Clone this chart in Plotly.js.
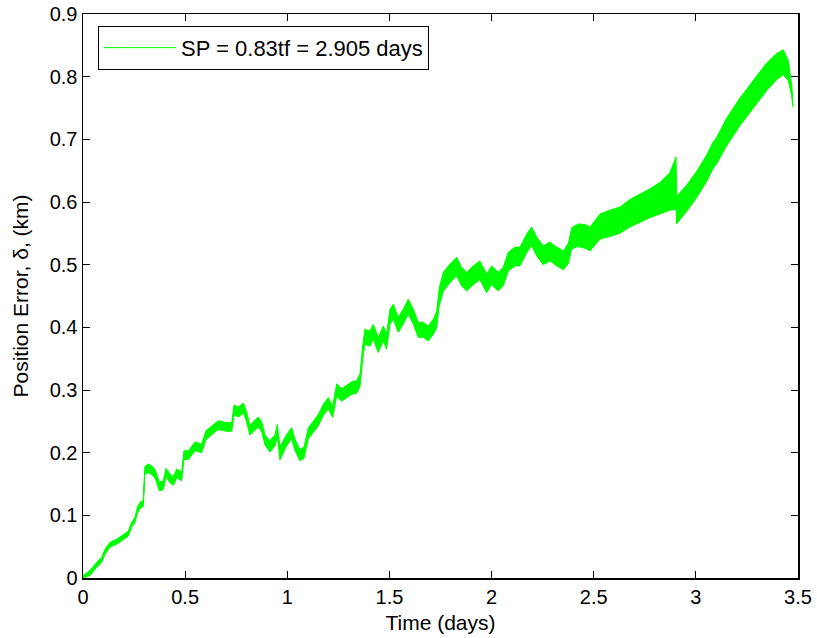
<!DOCTYPE html>
<html>
<head>
<meta charset="utf-8">
<script src="https://cdn.plot.ly/plotly-3.0.1.min.js"></script>
<style>
  html, body { margin: 0; padding: 0; background: #ffffff; }
  #chart { width: 817px; height: 638px; }
</style>
</head>
<body>
<div id="chart"></div>
<script>
// Position error of the propagated trajectory over time (days vs km).
// timeDays: sample times; errorKm: mean error; bandKm: half-width of the fast oscillation.
const timeDays = [
  0.000, 0.034, 0.067, 0.091, 0.108, 0.132, 0.165, 0.197, 0.222, 0.238,
  0.255, 0.266, 0.279, 0.295, 0.303, 0.320, 0.336, 0.352, 0.374, 0.393,
  0.406, 0.426, 0.442, 0.459, 0.483, 0.494, 0.516, 0.548, 0.581, 0.602,
  0.630, 0.662, 0.703, 0.728, 0.739, 0.760, 0.785, 0.798, 0.817, 0.834,
  0.858, 0.875, 0.891, 0.915, 0.940, 0.951, 0.964, 0.997, 1.021, 1.038,
  1.062, 1.082, 1.103, 1.127, 1.152, 1.176, 1.201, 1.222, 1.242, 1.266,
  1.291, 1.315, 1.340, 1.356, 1.369, 1.380, 1.405, 1.421, 1.445, 1.470,
  1.486, 1.503, 1.519, 1.543, 1.568, 1.592, 1.617, 1.641, 1.666, 1.690,
  1.715, 1.731, 1.744, 1.764, 1.796, 1.829, 1.853, 1.878, 1.910, 1.943,
  1.976, 2.000, 2.033, 2.057, 2.082, 2.115, 2.139, 2.172, 2.196, 2.221,
  2.253, 2.286, 2.319, 2.351, 2.376, 2.392, 2.424, 2.457, 2.482, 2.514,
  2.531, 2.580, 2.628, 2.677, 2.726, 2.775, 2.824, 2.873, 2.903, 2.906,
  2.955, 3.004, 3.053, 3.085, 3.102, 3.151, 3.216, 3.281, 3.347, 3.395,
  3.428, 3.452, 3.469, 3.475
];

const errorKm = [
  0.000, 0.008, 0.021, 0.029, 0.042, 0.053, 0.058, 0.066, 0.071, 0.085,
  0.093, 0.108, 0.116, 0.119, 0.172, 0.175, 0.172, 0.167, 0.146, 0.148,
  0.168, 0.159, 0.155, 0.167, 0.162, 0.196, 0.196, 0.210, 0.207, 0.228,
  0.236, 0.244, 0.241, 0.241, 0.268, 0.265, 0.271, 0.260, 0.236, 0.241,
  0.249, 0.241, 0.220, 0.210, 0.220, 0.236, 0.199, 0.220, 0.231, 0.212,
  0.196, 0.200, 0.231, 0.241, 0.252, 0.268, 0.279, 0.265, 0.300, 0.292,
  0.297, 0.303, 0.305, 0.316, 0.359, 0.385, 0.382, 0.393, 0.372, 0.390,
  0.377, 0.417, 0.425, 0.404, 0.417, 0.433, 0.417, 0.396, 0.396, 0.390,
  0.401, 0.412, 0.449, 0.473, 0.486, 0.497, 0.481, 0.473, 0.483, 0.491,
  0.470, 0.483, 0.473, 0.481, 0.505, 0.513, 0.513, 0.534, 0.545, 0.529,
  0.515, 0.521, 0.513, 0.507, 0.518, 0.542, 0.547, 0.545, 0.541, 0.555,
  0.561, 0.566, 0.571, 0.582, 0.590, 0.598, 0.606, 0.617, 0.630, 0.587,
  0.606, 0.628, 0.654, 0.675, 0.682, 0.712, 0.744, 0.771, 0.800, 0.816,
  0.823, 0.810, 0.779, 0.755
];

const bandKm = [
  0.004, 0.004, 0.004, 0.004, 0.004, 0.004, 0.004, 0.004, 0.004, 0.004,
  0.004, 0.005, 0.005, 0.005, 0.006, 0.007, 0.007, 0.007, 0.007, 0.007,
  0.007, 0.007, 0.007, 0.007, 0.007, 0.007, 0.007, 0.007, 0.007, 0.007,
  0.007, 0.007, 0.007, 0.007, 0.008, 0.008, 0.008, 0.008, 0.008, 0.008,
  0.008, 0.008, 0.008, 0.009, 0.009, 0.009, 0.011, 0.009, 0.009, 0.009,
  0.009, 0.009, 0.009, 0.009, 0.009, 0.009, 0.009, 0.009, 0.010, 0.010,
  0.010, 0.010, 0.010, 0.010, 0.011, 0.012, 0.012, 0.012, 0.012, 0.012,
  0.012, 0.012, 0.012, 0.012, 0.012, 0.012, 0.012, 0.012, 0.012, 0.012,
  0.012, 0.013, 0.014, 0.015, 0.015, 0.015, 0.015, 0.015, 0.015, 0.015,
  0.015, 0.015, 0.015, 0.015, 0.015, 0.015, 0.015, 0.015, 0.015, 0.015,
  0.015, 0.015, 0.015, 0.015, 0.016, 0.017, 0.018, 0.019, 0.019, 0.020,
  0.020, 0.021, 0.021, 0.022, 0.022, 0.023, 0.025, 0.030, 0.042, 0.022,
  0.021, 0.021, 0.021, 0.021, 0.021, 0.022, 0.022, 0.022, 0.022, 0.021,
  0.020, 0.016, 0.009, 0.004
];

const seriesName = 'SP = 0.83tf = 2.905 days';
const xTicks = [0, 0.5, 1, 1.5, 2, 2.5, 3, 3.5];
const yTicks = [0, 0.1, 0.2, 0.3, 0.4, 0.5, 0.6, 0.7, 0.8, 0.9];

const GREEN = '#00ff00';
const FONT = 'Liberation Sans, Arial, Helvetica, sans-serif';

const lowerEdge = errorKm.map((v, i) => Math.max(0, v - bandKm[i]));
const upperEdge = errorKm.map((v, i) => v + bandKm[i]);

const traces = [
  {
    x: timeDays, y: lowerEdge, type: 'scatter', mode: 'lines',
    line: { color: GREEN, width: 1 }, showlegend: false, hoverinfo: 'skip'
  },
  {
    x: timeDays, y: upperEdge, type: 'scatter', mode: 'lines',
    fill: 'tonexty', fillcolor: GREEN,
    line: { color: GREEN, width: 1 }, showlegend: false, hoverinfo: 'skip'
  },
  {
    x: timeDays, y: errorKm, type: 'scatter', mode: 'lines',
    name: seriesName, line: { color: GREEN, width: 1 }
  }
];

const axisCommon = {
  showline: true, linecolor: '#000000', linewidth: 1.5,
  mirror: 'ticks', ticks: 'inside', ticklen: 7, tickwidth: 1,
  tickcolor: '#000000', showgrid: false, zeroline: false,
  tickfont: { family: FONT, size: 20, color: '#000000' }
};

const layout = {
  width: 817, height: 638,
  margin: { l: 83, r: 19, t: 14, b: 60 },
  paper_bgcolor: '#ffffff', plot_bgcolor: '#ffffff',
  font: { family: FONT, color: '#000000' },
  xaxis: Object.assign({}, axisCommon, {
    range: [0, 3.5], tickvals: xTicks, ticktext: xTicks.map(String),
    title: { text: 'Time (days)', font: { family: FONT, size: 21 }, standoff: 9 }
  }),
  yaxis: Object.assign({}, axisCommon, {
    range: [0, 0.9], tickvals: yTicks, ticktext: yTicks.map(String),
    title: { text: 'Position Error, δ, (km)', font: { family: FONT, size: 21 }, standoff: 15 }
  }),
  legend: {
    x: 0.021, y: 0.979, xanchor: 'left', yanchor: 'top',
    bgcolor: '#ffffff', bordercolor: '#000000', borderwidth: 1,
    font: { family: FONT, size: 22, color: '#000000' },
    itemwidth: 72
  },
  showlegend: true
};

Plotly.newPlot('chart', traces, layout, { displayModeBar: false, staticPlot: true });
</script>
</body>
</html>
